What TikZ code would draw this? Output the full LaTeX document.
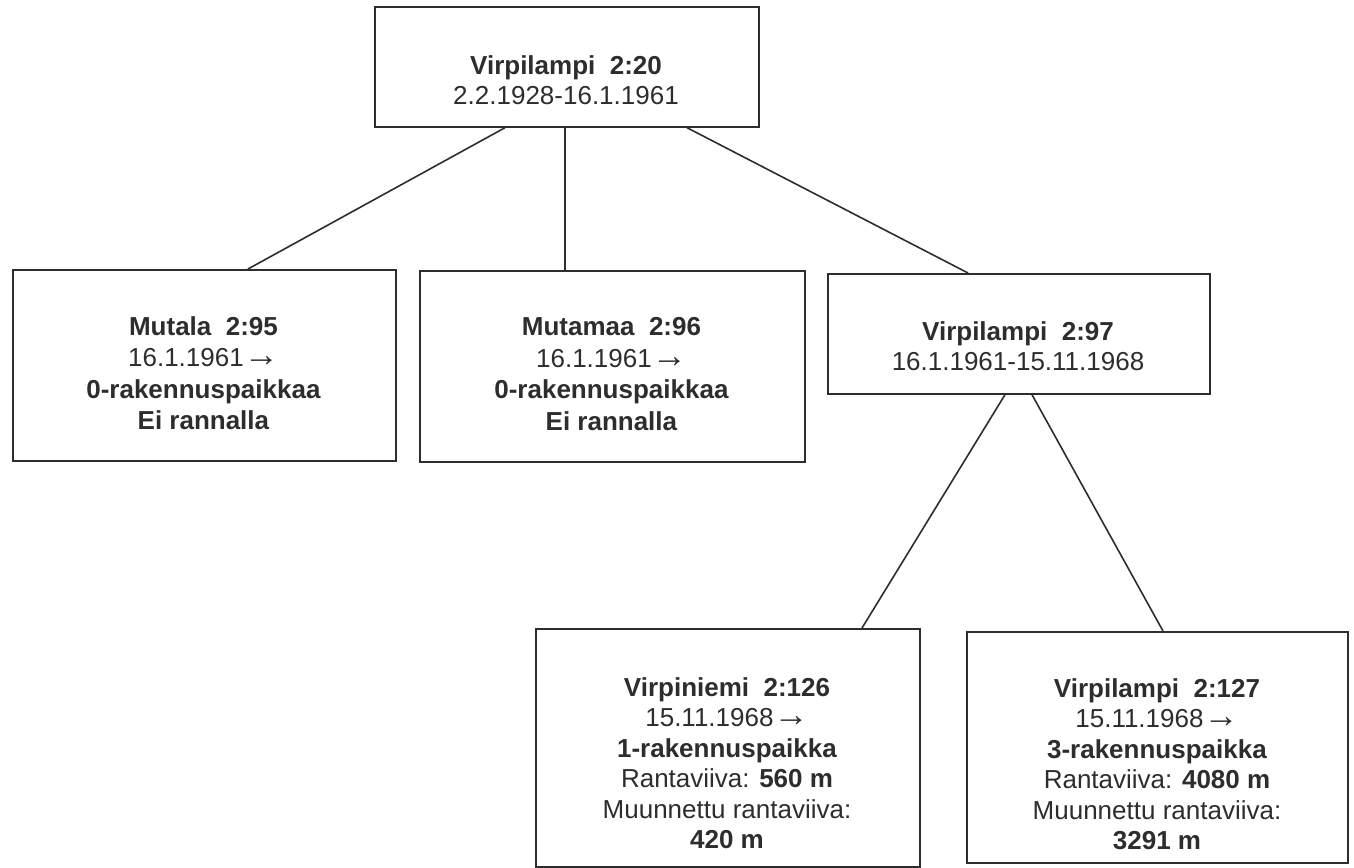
\documentclass[tikz,border=0pt]{standalone}
\usepackage{fontspec}
\setmainfont{Liberation Sans}
\definecolor{ink}{RGB}{45,45,45}
\newcommand{\rarr}{\smash{\scalebox{1.35}{→}}}
\begin{document}
\begin{tikzpicture}[x=1pt,y=-1pt,
  box/.style={draw=ink,line width=1.7pt,rectangle,inner sep=0pt,anchor=north west},
  lbl/.style={align=center,text=ink,font=\fontsize{26}{30.5}\selectfont,inner sep=0pt},
  link/.style={draw=ink,line width=1.6pt}]
\useasboundingbox (0,0) rectangle (1354,867);
% boxes
\node[box,minimum width=384pt,minimum height=120pt] (top) at (374,6) {};
\node[box,minimum width=383pt,minimum height=191pt] (mutala) at (12,269) {};
\node[box,minimum width=385pt,minimum height=191pt] (mutamaa) at (419,270) {};
\node[box,minimum width=382pt,minimum height=120pt] (v97) at (827,273) {};
\node[box,minimum width=384pt,minimum height=238pt] (v126) at (535,628) {};
\node[box,minimum width=381pt,minimum height=231pt] (v127) at (966,631) {};
% texts
\node[lbl] (ttop) at (566,80) {\textbf{Virpilampi~~2:20}\\2.2.1928-16.1.1961};
\node[lbl,font=\fontsize{26}{31.5}\selectfont] (tmutala) at (203.5,373) {\textbf{Mutala~~2:95}\\16.1.1961\rarr\\\textbf{0-rakennuspaikkaa}\\\textbf{Ei rannalla}};
\node[lbl,font=\fontsize{26}{31.5}\selectfont] (tmutamaa) at (611.5,374) {\textbf{Mutamaa~~2:96}\\16.1.1961\rarr\\\textbf{0-rakennuspaikkaa}\\\textbf{Ei rannalla}};
\node[lbl] (tv97) at (1018,346) {\textbf{Virpilampi~~2:97}\\16.1.1961-15.11.1968};
\node[lbl] (tv126) at (727,763) {\textbf{Virpiniemi~~2:126}\\15.11.1968\rarr\\\textbf{1-rakennuspaikka}\\Rantaviiva: \textbf{560 m}\\Muunnettu rantaviiva:\\\textbf{420 m}};
\node[lbl] (tv127) at (1157,764) {\textbf{Virpilampi~~2:127}\\15.11.1968\rarr\\\textbf{3-rakennuspaikka}\\Rantaviiva: \textbf{4080 m}\\Muunnettu rantaviiva:\\\textbf{3291 m}};
% connectors
\draw[link] ([xshift=131pt]top.south west) -- ([xshift=236pt]mutala.north west);
\draw[link] ([xshift=191pt]top.south west) -- ([xshift=146pt]mutamaa.north west);
\draw[link] ([xshift=313pt]top.south west) -- ([xshift=141pt]v97.north west);
\draw[link] ([xshift=178pt]v97.south west) -- ([xshift=327pt]v126.north west);
\draw[link] ([xshift=205pt]v97.south west) -- ([xshift=197pt]v127.north west);
\end{tikzpicture}
\end{document}
